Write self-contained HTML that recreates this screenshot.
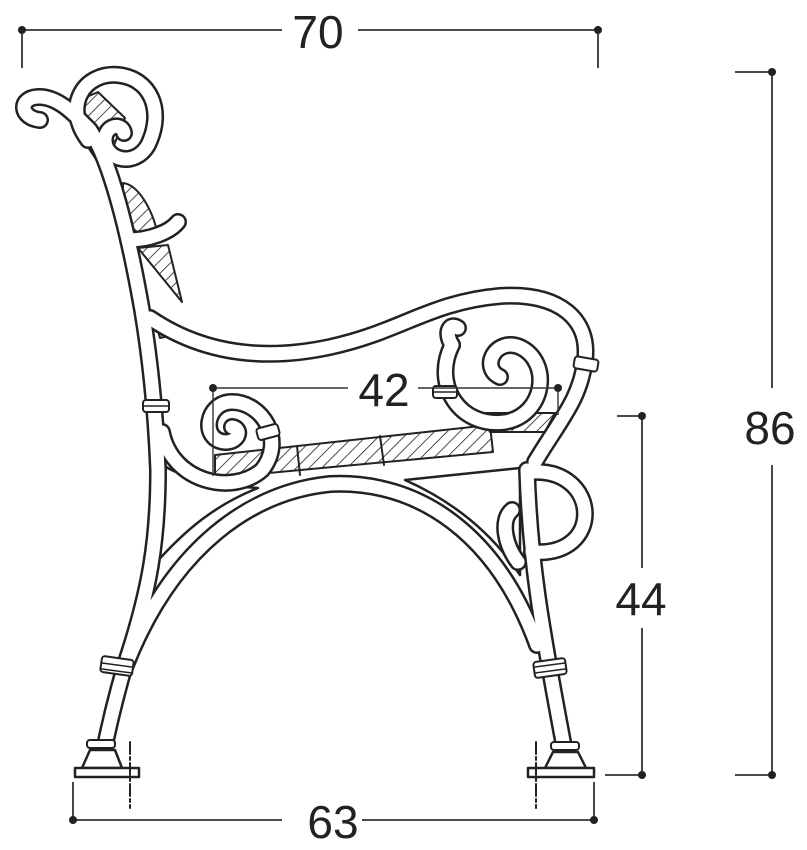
<!DOCTYPE html>
<html><head><meta charset="utf-8"><style>
html,body{margin:0;padding:0;background:#fff;width:807px;height:850px;overflow:hidden}
svg{display:block}
text{font-family:"Liberation Sans Narrow","Liberation Sans",sans-serif;fill:#222}
</style></head><body>
<svg width="807" height="850" viewBox="0 0 807 850" xmlns="http://www.w3.org/2000/svg">
<defs>
<pattern id="h" width="9" height="9" patternUnits="userSpaceOnUse" patternTransform="rotate(45)">
<rect width="9" height="9" fill="#fff"/><line x1="0" y1="0" x2="0" y2="9" stroke="#222" stroke-width="1.6"/>
</pattern>
</defs>
<g stroke="#222" stroke-linejoin="round" stroke-linecap="round">
<path d="M80,100 L98,92 L125,118 L112,150 L103,170 L80,135 Z" fill="url(#h)" stroke-width="2"/>
<path d="M123,183 C140,185 155,215 158,238 C140,238 122,225 123,205 Z" fill="url(#h)" stroke-width="2"/>
<path d="M138,248 L168,245 L182,302 Z" fill="url(#h)" stroke-width="2"/>
<path d="M152,312 L175,335 L160,338 Z" fill="url(#h)" stroke-width="2"/>
<path d="M215,455 L490,425 L493,452 L215,478 Z" fill="url(#h)" stroke-width="2"/>
<path d="M480,413 L555,413 L545,432 L490,432 Z" fill="url(#h)" stroke-width="2"/>
<line x1="297" y1="446" x2="300" y2="475" stroke-width="2"/>
<line x1="380" y1="436" x2="384" y2="465" stroke-width="2"/>
<!-- triangles -->
<path d="M166,467 L154,565 C185,530 215,505 258,488 C215,485 185,478 166,467 Z" fill="#fff" stroke-width="2.5"/>
<path d="M405,480 L520,468 L520,575 C490,530 450,500 405,480 Z" fill="#fff" stroke-width="2.5"/>
</g>
<g fill="none" stroke="#222" stroke-width="18" stroke-linejoin="round" stroke-linecap="round">
<path d="M40,120 C20,118 18,98 38,97 C58,96 75,115 90,130 C110,160 128,230 142,310 C152,370 156,420 158,470 C158,540 150,590 125,665 C115,700 108,730 103,755"/>
<path d="M88,140 C62,105 85,72 118,75 C150,78 165,110 148,145 C135,168 105,160 105,140 C105,125 122,122 124,133"/>
<path d="M128,240 C150,240 170,232 178,222"/>
<path d="M150,318 C200,352 260,362 330,347 C400,332 430,302 500,296 C560,292 590,320 585,360 C580,400 560,420 535,462"/>
<path d="M452,345 C432,385 460,428 505,422 C545,415 552,362 520,347 C495,337 480,368 500,377"/>
<path d="M452,345 C444,332 450,322 458,328"/>
<path d="M162,432 C172,482 232,496 262,470 C286,440 262,402 232,402 C206,402 200,440 225,442 C240,442 242,428 232,427"/>
<path d="M126,665 C172,548 250,492 330,484 C420,480 497,535 537,645"/>
<path d="M527,470 C530,560 540,620 565,752"/>
<path d="M532,472 C600,468 605,558 532,552"/>
<path d="M518,562 C505,545 500,520 512,510"/>
</g>
<g fill="none" stroke="#fff" stroke-width="13" stroke-linejoin="round" stroke-linecap="round">
<path d="M40,120 C20,118 18,98 38,97 C58,96 75,115 90,130 C110,160 128,230 142,310 C152,370 156,420 158,470 C158,540 150,590 125,665 C115,700 108,730 103,755"/>
<path d="M88,140 C62,105 85,72 118,75 C150,78 165,110 148,145 C135,168 105,160 105,140 C105,125 122,122 124,133"/>
<path d="M128,240 C150,240 170,232 178,222"/>
<path d="M150,318 C200,352 260,362 330,347 C400,332 430,302 500,296 C560,292 590,320 585,360 C580,400 560,420 535,462"/>
<path d="M452,345 C432,385 460,428 505,422 C545,415 552,362 520,347 C495,337 480,368 500,377"/>
<path d="M452,345 C444,332 450,322 458,328"/>
<path d="M162,432 C172,482 232,496 262,470 C286,440 262,402 232,402 C206,402 200,440 225,442 C240,442 242,428 232,427"/>
<path d="M126,665 C172,548 250,492 330,484 C420,480 497,535 537,645"/>
<path d="M527,470 C530,560 540,620 565,752"/>
<path d="M532,472 C600,468 605,558 532,552"/>
<path d="M518,562 C505,545 500,520 512,510"/>
</g>
<g stroke="#222" stroke-linejoin="round" stroke-linecap="round">
<g fill="#fff" stroke-width="2">
<rect x="143" y="400" width="26" height="12" rx="3"/>
<rect x="257" y="426" width="22" height="12" rx="3" transform="rotate(-15 268 432)"/>
<rect x="433" y="386" width="24" height="12" rx="3"/>
<rect x="574" y="358" width="24" height="12" rx="3" transform="rotate(10 586 364)"/>
<rect x="101" y="658" width="32" height="16" rx="3" transform="rotate(8 117 666)"/>
<rect x="534" y="660" width="32" height="16" rx="3" transform="rotate(-8 550 668)"/>
<rect x="87" y="740" width="28" height="8" rx="3"/>
<rect x="551" y="742" width="28" height="8" rx="3"/>
</g>
<g stroke-width="1.5">
<line x1="144" y1="406" x2="168" y2="406"/>
<line x1="434" y1="392" x2="456" y2="392"/>
<line x1="102" y1="663" x2="132" y2="667"/><line x1="102" y1="669" x2="132" y2="673"/>
<line x1="535" y1="667" x2="565" y2="663"/><line x1="535" y1="673" x2="565" y2="669"/>
</g>
<path d="M90,750 L115,750 L122,768 L82,768 Z" fill="#fff" stroke-width="2.5"/>
<rect x="75" y="768" width="64" height="9" fill="#fff" stroke-width="2.5"/>
<path d="M553,752 L578,752 L586,768 L545,768 Z" fill="#fff" stroke-width="2.5"/>
<rect x="528" y="768" width="66" height="9" fill="#fff" stroke-width="2.5"/>
<line x1="130" y1="742" x2="130" y2="808" stroke-width="2" stroke-dasharray="12,3,3,3"/>
<line x1="536" y1="742" x2="536" y2="808" stroke-width="2" stroke-dasharray="12,3,3,3"/>
</g>
<g stroke="#333" stroke-width="1.8" fill="none">
<line x1="22" y1="30" x2="282" y2="30"/><line x1="358" y1="30" x2="598" y2="30"/>
<line x1="22" y1="30" x2="22" y2="68"/><line x1="598" y1="30" x2="598" y2="68"/>
<line x1="735" y1="72" x2="772" y2="72"/><line x1="772" y1="72" x2="772" y2="388"/>
<line x1="772" y1="465" x2="772" y2="775"/><line x1="735" y1="775" x2="772" y2="775"/>
<line x1="617" y1="416" x2="642" y2="416"/><line x1="642" y1="416" x2="642" y2="568"/>
<line x1="642" y1="628" x2="642" y2="775"/><line x1="605" y1="775" x2="642" y2="775"/>
<line x1="73" y1="820" x2="282" y2="820"/><line x1="362" y1="820" x2="594" y2="820"/>
<line x1="73" y1="782" x2="73" y2="822"/><line x1="594" y1="782" x2="594" y2="822"/>
<line x1="213" y1="388" x2="348" y2="388" stroke-width="1.4"/><line x1="418" y1="388" x2="558" y2="388" stroke-width="1.4"/>
<line x1="213" y1="388" x2="213" y2="476" stroke-width="1.4"/><line x1="558" y1="388" x2="558" y2="415" stroke-width="1.4"/>
</g>
<g fill="#222">
<circle cx="22" cy="30" r="4"/><circle cx="598" cy="30" r="4"/>
<circle cx="772" cy="72" r="4"/><circle cx="772" cy="775" r="4"/>
<circle cx="642" cy="416" r="4"/><circle cx="642" cy="775" r="4"/>
<circle cx="73" cy="820" r="4"/><circle cx="594" cy="820" r="4"/>
<circle cx="213" cy="388" r="4"/><circle cx="558" cy="388" r="4"/>
</g>
<g font-size="46">
<text x="318" y="48" text-anchor="middle">70</text>
<text x="770" y="444" text-anchor="middle">86</text>
<text x="641" y="615" text-anchor="middle">44</text>
<text x="333" y="838" text-anchor="middle">63</text>
<text x="384" y="406" text-anchor="middle">42</text>
</g>
</svg>
</body></html>
